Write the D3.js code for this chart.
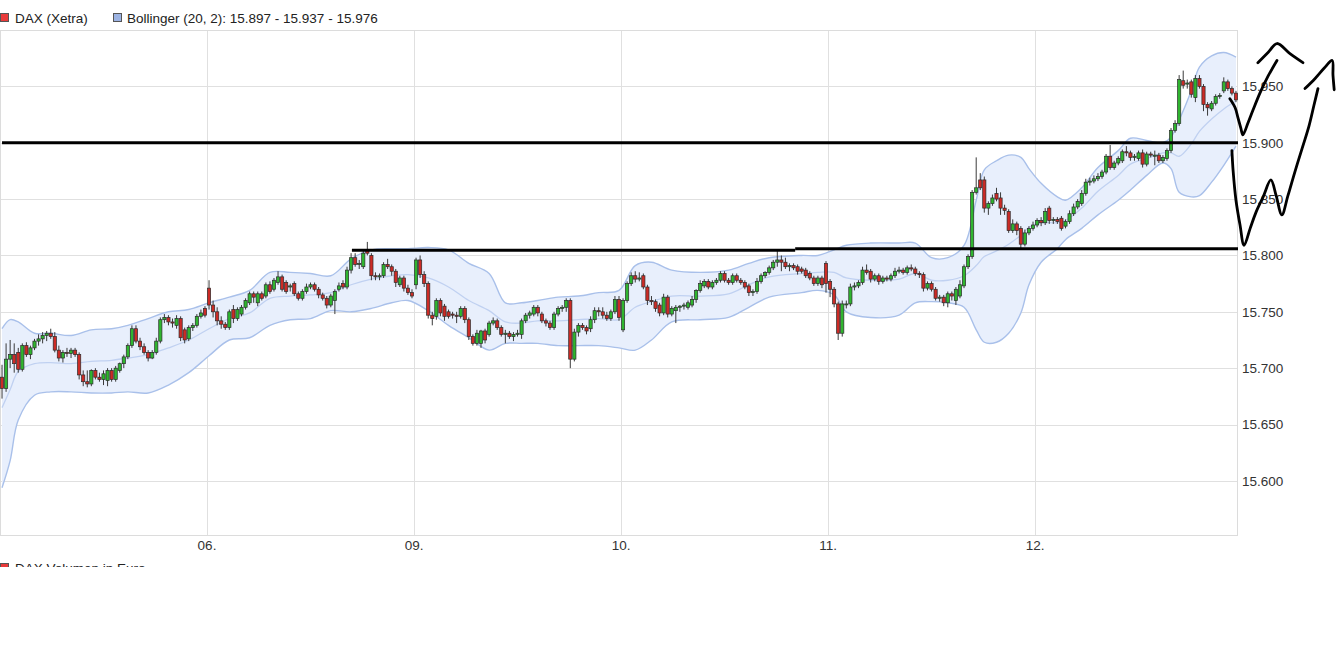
<!DOCTYPE html>
<html><head><meta charset="utf-8">
<script src="https://cdn.jsdelivr.net/npm/d3@7"></script>
<style>
html,body{margin:0;padding:0;background:#fff;}
svg{display:block;font-family:"Liberation Sans",Arial,sans-serif;}
</style></head>
<body>
<svg id="chart" width="1336" height="648"></svg>
<script>
// ---------- DATA ----------
const dayLabels = ["05.", "06.", "09.", "10.", "11.", "12."];
const candlesPerDay = 51;
// [open, high, low, close] per 10-minute candle
const candles05 = [
[15692,15703,15673,15682],[15682,15722,15679,15708],[15708,15725,15700,15712],[15712,15722,15696,15704],
[15714,15718,15696,15699],[15699,15722,15697,15720],[15720,15723,15710,15712],[15712,15720,15708,15718],
[15718,15726,15716,15724],[15724,15730,15720,15726],[15726,15732,15722,15729],[15729,15733,15724,15731],
[15731,15735,15726,15728],[15728,15732,15714,15716],[15716,15720,15706,15709],[15709,15716,15705,15714],
[15714,15718,15710,15713],[15713,15718,15709,15716],[15716,15718,15710,15712],[15712,15714,15690,15694],
[15694,15698,15684,15688],[15688,15698,15683,15686],[15686,15699,15684,15698],[15698,15700,15690,15692],
[15692,15696,15688,15690],[15690,15698,15685,15695],[15689,15700,15684,15698],[15698,15700,15688,15690],
[15690,15702,15688,15700],[15698,15705,15696,15704],[15704,15712,15700,15710],[15710,15722,15708,15720],
[15720,15738,15718,15735],[15735,15738,15722,15724],[15724,15727,15716,15719],[15719,15722,15712,15714],
[15714,15716,15706,15709],[15709,15716,15708,15714],[15714,15727,15712,15724],[15724,15745,15722,15743],
[15743,15748,15740,15745],[15745,15747,15738,15741],[15741,15744,15736,15740],[15738,15747,15735,15744],
[15744,15746,15724,15727],[15734,15736,15722,15725],[15726,15738,15724,15736],[15736,15740,15733,15738],
[15738,15748,15736,15746],[15746,15752,15744,15749],[15753,15755,15745,15747]];
const candles06 = [
[15771,15778,15752,15756],[15756,15760,15745,15750],[15750,15754,15738,15742],[15742,15746,15735,15739],
[15739,15741,15734,15736],[15736,15752,15734,15750],[15752,15756,15740,15744],[15744,15754,15742,15752],
[15748,15756,15746,15754],[15754,15762,15752,15760],[15758,15768,15756,15766],[15766,15768,15758,15763],
[15758,15768,15755,15766],[15766,15768,15760,15762],[15764,15776,15762,15774],[15774,15777,15766,15768],
[15770,15780,15768,15778],[15776,15786,15774,15781],[15781,15783,15768,15770],[15776,15778,15766,15768],
[15772,15775,15768,15773],[15775,15777,15764,15766],[15766,15768,15760,15762],[15762,15770,15760,15768],
[15768,15775,15766,15772],[15772,15776,15770,15774],[15774,15776,15768,15770],[15770,15772,15762,15765],
[15765,15767,15760,15762],[15762,15764,15753,15756],[15756,15766,15754,15764],[15760,15770,15748,15768],
[15770,15776,15768,15773],[15775,15778,15770,15772],[15772,15790,15770,15787],[15787,15802,15784,15798],
[15798,15802,15790,15792],[15792,15796,15788,15793],[15790,15805,15788,15802],[15805,15812,15800,15802],
[15800,15802,15778,15782],[15782,15785,15778,15781],[15781,15784,15778,15782],[15782,15794,15780,15792],
[15792,15797,15788,15790],[15790,15792,15782,15786],[15786,15788,15772,15776],[15774,15782,15772,15780],
[15780,15782,15768,15771],[15771,15774,15765,15767],[15767,15770,15762,15764]];
const candles09 = [
[15774,15798,15770,15796],[15796,15800,15780,15783],[15783,15786,15772,15775],[15775,15777,15744,15747],
[15747,15750,15738,15744],[15746,15762,15743,15760],[15760,15762,15746,15749],[15755,15757,15742,15746],
[15750,15752,15744,15746],[15748,15750,15744,15747],[15747,15750,15740,15746],[15746,15755,15744,15753],
[15753,15755,15740,15743],[15743,15745,15725,15728],[15728,15730,15720,15722],[15722,15734,15720,15731],
[15722,15734,15718,15733],[15733,15735,15722,15725],[15730,15742,15728,15740],[15740,15745,15738,15742],
[15742,15744,15734,15736],[15736,15738,15728,15730],[15730,15734,15722,15731],[15731,15733,15726,15728],
[15728,15732,15724,15730],[15730,15734,15728,15731],[15730,15744,15726,15742],[15742,15749,15740,15747],
[15747,15751,15744,15749],[15748,15756,15746,15754],[15754,15756,15746,15749],[15748,15750,15740,15742],
[15742,15744,15737,15740],[15740,15742,15734,15736],[15736,15750,15734,15748],[15748,15755,15746,15753],
[15753,15756,15750,15754],[15754,15762,15750,15760],[15760,15762,15700,15708],[15708,15735,15706,15732],
[15732,15740,15728,15738],[15738,15740,15734,15736],[15736,15738,15730,15733],[15735,15746,15732,15743],
[15743,15754,15740,15751],[15751,15754,15746,15750],[15750,15754,15744,15747],[15747,15750,15742,15744],
[15744,15752,15742,15750],[15750,15764,15748,15761],[15761,15764,15742,15745]];
const candles10 = [
[15734,15762,15732,15760],[15760,15777,15758,15775],[15775,15785,15773,15782],[15782,15786,15776,15779],
[15779,15785,15777,15780],[15782,15784,15770,15772],[15772,15774,15756,15760],[15760,15764,15756,15759],
[15759,15761,15750,15753],[15756,15758,15746,15749],[15749,15766,15747,15763],[15763,15765,15745,15748],
[15748,15755,15746,15753],[15751,15756,15740,15754],[15754,15756,15750,15755],[15755,15758,15752,15756],
[15754,15760,15752,15758],[15756,15764,15754,15761],[15761,15770,15758,15769],[15769,15778,15767,15775],
[15773,15779,15771,15777],[15777,15779,15770,15772],[15772,15778,15770,15776],[15776,15780,15774,15778],
[15778,15786,15776,15784],[15784,15786,15776,15778],[15778,15780,15774,15776],[15776,15784,15774,15782],
[15782,15784,15776,15778],[15778,15780,15774,15776],[15776,15778,15770,15772],[15773,15775,15764,15767],
[15767,15770,15764,15768],[15768,15780,15766,15777],[15777,15784,15775,15782],[15782,15786,15780,15785],
[15785,15791,15783,15789],[15789,15796,15787,15794],[15794,15805,15790,15796],[15796,15800,15786,15794],
[15794,15798,15788,15790],[15790,15793,15786,15791],[15791,15793,15787,15789],[15790,15792,15783,15786],
[15788,15790,15784,15786],[15787,15789,15780,15782],[15784,15786,15778,15780],[15780,15782,15773,15775],
[15775,15782,15773,15780],[15780,15782,15771,15774],[15793,15795,15767,15775]];
const candles11 = [
[15777,15779,15763,15770],[15770,15772,15754,15757],[15757,15759,15725,15731],[15731,15760,15728,15757],
[15757,15760,15753,15757],[15757,15775,15755,15772],[15772,15776,15769,15773],[15773,15778,15771,15776],
[15776,15790,15774,15787],[15787,15792,15783,15785],[15786,15788,15776,15779],[15779,15784,15777,15782],
[15782,15784,15774,15777],[15777,15782,15775,15780],[15780,15782,15777,15779],[15779,15784,15777,15782],
[15782,15789,15780,15786],[15786,15790,15784,15787],[15787,15789,15783,15785],[15785,15791,15783,15789],
[15789,15792,15786,15788],[15788,15790,15782,15784],[15784,15786,15780,15783],[15783,15785,15768,15771],
[15771,15777,15769,15775],[15775,15777,15768,15770],[15770,15772,15760,15762],[15762,15765,15759,15763],
[15763,15765,15755,15758],[15758,15768,15754,15766],[15766,15768,15760,15764],[15760,15772,15756,15770],
[15764,15778,15762,15774],[15773,15792,15771,15790],[15790,15801,15788,15799],[15799,15858,15797,15856],
[15856,15887,15854,15860],[15867,15873,15858,15860],[15867,15870,15838,15842],[15842,15848,15836,15846],
[15846,15854,15844,15851],[15855,15860,15848,15850],[15851,15856,15836,15842],[15842,15845,15836,15840],
[15839,15841,15820,15822],[15822,15832,15820,15828],[15828,15830,15818,15822],[15824,15826,15806,15810],
[15810,15823,15808,15820],[15820,15826,15818,15824],[15824,15830,15822,15827]];
const candles12 = [
[15827,15833,15825,15831],[15831,15834,15826,15829],[15829,15842,15827,15839],[15842,15844,15828,15831],
[15831,15834,15828,15832],[15832,15834,15828,15830],[15833,15835,15822,15824],[15826,15832,15824,15830],
[15830,15840,15828,15837],[15837,15846,15835,15843],[15843,15850,15841,15848],[15846,15858,15844,15855],
[15855,15868,15853,15865],[15865,15869,15862,15866],[15866,15871,15864,15868],[15868,15873,15866,15870],
[15870,15876,15868,15874],[15874,15890,15872,15888],[15888,15898,15876,15878],[15878,15884,15876,15882],
[15882,15888,15880,15886],[15884,15894,15882,15892],[15892,15897,15888,15891],[15891,15893,15884,15887],
[15887,15890,15884,15888],[15886,15893,15884,15891],[15891,15894,15878,15881],[15881,15892,15879,15890],
[15890,15892,15887,15889],[15888,15893,15880,15889],[15889,15891,15882,15884],[15884,15889,15882,15887],
[15886,15895,15884,15893],[15893,15913,15891,15911],[15911,15920,15909,15917],[15917,15960,15915,15956],
[15955,15964,15948,15951],[15952,15956,15948,15953],[15954,15956,15940,15943],[15940,15960,15936,15957],
[15957,15960,15948,15950],[15950,15952,15928,15934],[15934,15936,15924,15931],[15930,15937,15928,15935],
[15935,15943,15933,15941],[15941,15944,15939,15942],[15946,15958,15944,15954],[15954,15956,15946,15948],
[15948,15950,15942,15944],[15944,15946,15936,15938]];

// Bollinger (20, 2) at sample candles
const bbIndex = [0,2,4,8,12,17,22,27,31,36,41,46,51,56,61,66,71,76,81,86,91,96,100,105,110,115,120,124,128,132,137,142,147,152,156,160,165,172,179,184,189,197,201,205,208,214,221,225,229,233,237,240,242,245,248,251,253,256,260,262,266,270,275,278,282,286,288,290,293,295,298,301,304];
const bbUpper = [15735,15743,15741,15731,15731,15729,15734,15735,15738,15744,15750,15752,15758,15763,15769,15785,15785,15784,15782,15797,15805,15806,15806,15807,15805,15793,15784,15758,15758,15760,15763,15764,15767,15769,15791,15794,15787,15785,15787,15793,15798,15800,15800,15805,15809,15811,15811,15811,15798,15798,15809,15849,15876,15884,15889,15887,15877,15864,15852,15849,15860,15878,15893,15904,15902,15900,15905,15920,15946,15967,15977,15980,15976];
const bbMiddle = [15665,15681,15697,15704,15705,15704,15706,15707,15709,15712,15718,15725,15735,15744,15749,15762,15764,15765,15767,15774,15779,15782,15783,15780,15772,15760,15751,15741,15740,15742,15742,15743,15744,15743,15754,15759,15764,15764,15766,15774,15781,15784,15785,15785,15780,15778,15779,15784,15778,15778,15782,15791,15799,15804,15810,15818,15825,15829,15829,15831,15842,15857,15871,15881,15886,15891,15891,15888,15899,15910,15921,15930,15937];
const bbLower = [15594,15618,15654,15676,15679,15679,15678,15678,15679,15678,15685,15696,15711,15725,15727,15738,15743,15744,15751,15750,15753,15758,15760,15751,15738,15727,15716,15722,15722,15722,15720,15720,15720,15718,15716,15725,15741,15743,15745,15754,15763,15767,15769,15765,15750,15745,15747,15758,15759,15758,15754,15734,15723,15723,15731,15749,15774,15794,15806,15814,15824,15836,15849,15858,15871,15882,15877,15856,15852,15853,15865,15880,15897];

const yTicks = [15600,15650,15700,15750,15800,15850,15900,15950];
// hand-drawn support/resistance lines: [fromIndex, toIndex, level]
const hLines = [[0.5,305,15900],[86.7,195.9,15804.5],[195.9,305,15806]];
// hand-drawn arrows: [index, level]
const strokeA = [[302.5,15939],[303.8,15931],[304.5,15922],[305.2,15913],[305.7,15907],[307.0,15918],[308.2,15929],[309.9,15944],[311.9,15959],[314.1,15973]];
const strokeAHead = [[309.4,15971],[311.9,15980],[314.1,15988],[317.3,15979],[320.5,15971]];
const strokeB = [[303.0,15893],[303.3,15875],[304.0,15849],[305.0,15827],[306.0,15809],[307.5,15824],[308.9,15838],[310.7,15852],[312.6,15867],[313.9,15853],[315.3,15836],[316.8,15853],[318.5,15874],[320.3,15895],[322.0,15915],[323.2,15933],[324.2,15948]];
const strokeBHead = [[321.0,15948],[323.5,15957],[325.7,15966],[327.7,15973],[327.9,15960],[328.2,15947]];

// ---------- CHART ----------
const candles = [].concat(candles05, candles06, candles09, candles10, candles11, candles12);
const svg = d3.select("#chart");
const P = {left:0, top:30, right:1238, bottom:535};
const x = d3.scaleLinear().domain([0, 305]).range([P.left, P.right]);
const y = d3.scaleLinear().domain([15552, 16000]).range([P.bottom, P.top]);
const fmt = d3.formatLocale({decimal:",", thousands:".", grouping:[3], currency:["","€"]}).format(",");
const FS = 13.5;

svg.append("defs").append("clipPath").attr("id","plotclip")
  .append("rect").attr("x",P.left).attr("y",P.top).attr("width",P.right-P.left).attr("height",P.bottom-P.top);

// grid
const grid = svg.append("g");
grid.selectAll("line.h").data(yTicks).join("line")
  .attr("x1",P.left).attr("x2",P.right).attr("y1",d=>Math.round(y(d))+0.5).attr("y2",d=>Math.round(y(d))+0.5)
  .attr("stroke","#e0e0e0");
const dayStarts = dayLabels.map((d,i)=>i*candlesPerDay).slice(1);
grid.selectAll("line.v").data(dayStarts).join("line")
  .attr("y1",P.top).attr("y2",P.bottom).attr("x1",d=>Math.round(x(d))+0.5).attr("x2",d=>Math.round(x(d))+0.5)
  .attr("stroke","#e0e0e0");
grid.append("rect").attr("x",P.left+0.5).attr("y",P.top+0.5).attr("width",P.right-P.left-1).attr("height",P.bottom-P.top)
  .attr("fill","none").attr("stroke","#dcdcdc");

// bollinger
const bb = bbIndex.map((d,i)=>({i:d, u:bbUpper[i], m:bbMiddle[i], l:bbLower[i]}));
const plot = svg.append("g").attr("clip-path","url(#plotclip)");
const curve = d3.curveCatmullRom.alpha(0.5);
plot.append("path").datum(bb)
  .attr("d", d3.area().x(d=>x(d.i+0.5)).y0(d=>y(d.l)).y1(d=>y(d.u)).curve(curve))
  .attr("fill","#e8effc");
plot.append("path").datum(bb)
  .attr("d", d3.line().x(d=>x(d.i+0.5)).y(d=>y(d.m)).curve(curve))
  .attr("fill","none").attr("stroke","#c0d1f1").attr("stroke-width",1.3);
["u","l"].forEach(k=>{
  plot.append("path").datum(bb)
    .attr("d", d3.line().x(d=>x(d.i+0.5)).y(d=>y(d[k])).curve(curve))
    .attr("fill","none").attr("stroke","#a9c0ea").attr("stroke-width",1.4);
});

// candles
const cg = plot.append("g");
cg.selectAll("line").data(candles).join("line")
  .attr("x1",(d,i)=>x(i+0.5)).attr("x2",(d,i)=>x(i+0.5))
  .attr("y1",d=>y(d[1])).attr("y2",d=>y(d[2]))
  .attr("stroke","#3a3a3a").attr("stroke-width",1);
cg.selectAll("rect").data(candles).join("rect")
  .attr("x",(d,i)=>x(i+0.5)-1.6).attr("width",3.2)
  .attr("y",d=>y(Math.max(d[0],d[3])))
  .attr("height",d=>Math.max(1, Math.abs(y(d[0])-y(d[3]))))
  .attr("fill",d=>d[3]>=d[0] ? "#2fb52f" : "#cc2b26")
  .attr("stroke","#2b2b2b").attr("stroke-width",0.7);

// y labels
svg.append("g").selectAll("text").data(yTicks).join("text")
  .attr("x",1242).attr("y",d=>y(d)).attr("dy","0.36em")
  .attr("font-size",FS).attr("fill","#333").text(d=>fmt(d));
// x labels
svg.append("g").selectAll("text").data(dayStarts).join("text")
  .attr("x",d=>x(d)).attr("y",545).attr("dy","0.36em").attr("text-anchor","middle")
  .attr("font-size",FS).attr("fill","#333").text((d,i)=>dayLabels[i+1]);

// annotation lines
svg.append("g").selectAll("line").data(hLines).join("line")
  .attr("x1",d=>x(d[0])).attr("x2",d=>x(d[1])).attr("y1",d=>y(d[2])).attr("y2",d=>y(d[2]))
  .attr("stroke","#000").attr("stroke-width",3);
const scribble = d3.line().x(d=>x(d[0]+0.5)).y(d=>y(d[1])).curve(d3.curveCatmullRom.alpha(0.5));
[strokeA, strokeAHead, strokeB, strokeBHead].forEach(s=>{
  svg.append("path").attr("d",scribble(s)).attr("fill","none").attr("stroke","#000")
    .attr("stroke-width",2.8).attr("stroke-linecap","round").attr("stroke-linejoin","round");
});

// legend
const lg = svg.append("g").attr("font-size",FS).attr("fill","#222");
lg.append("rect").attr("x",0.5).attr("y",13.5).attr("width",8).attr("height",8).attr("fill","#e83a3a").attr("stroke","#555");
lg.append("text").attr("x",15).attr("y",18).attr("dy","0.36em").text("DAX (Xetra)");
lg.append("rect").attr("x",113.5).attr("y",13.5).attr("width",8).attr("height",8).attr("fill","#9cb3e3").attr("stroke","#555");
lg.append("text").attr("x",127).attr("y",18).attr("dy","0.36em").text("Bollinger (20, 2): "+fmt(bbLower[bbLower.length-1])+" - "+fmt(bbMiddle[bbMiddle.length-1])+" - "+fmt(bbUpper[bbUpper.length-1]));

// second panel legend (cut off)
svg.append("clipPath").attr("id","volclip").append("rect").attr("x",0).attr("y",555).attr("width",400).attr("height",12);
const vg = svg.append("g").attr("clip-path","url(#volclip)").attr("font-size",FS).attr("fill","#222");
vg.append("rect").attr("x",0.5).attr("y",563.5).attr("width",8).attr("height",8).attr("fill","#e83a3a").attr("stroke","#555");
vg.append("text").attr("x",15).attr("y",568).attr("dy","0.36em").text("DAX Volumen in Euro");
</script>
</body></html>
